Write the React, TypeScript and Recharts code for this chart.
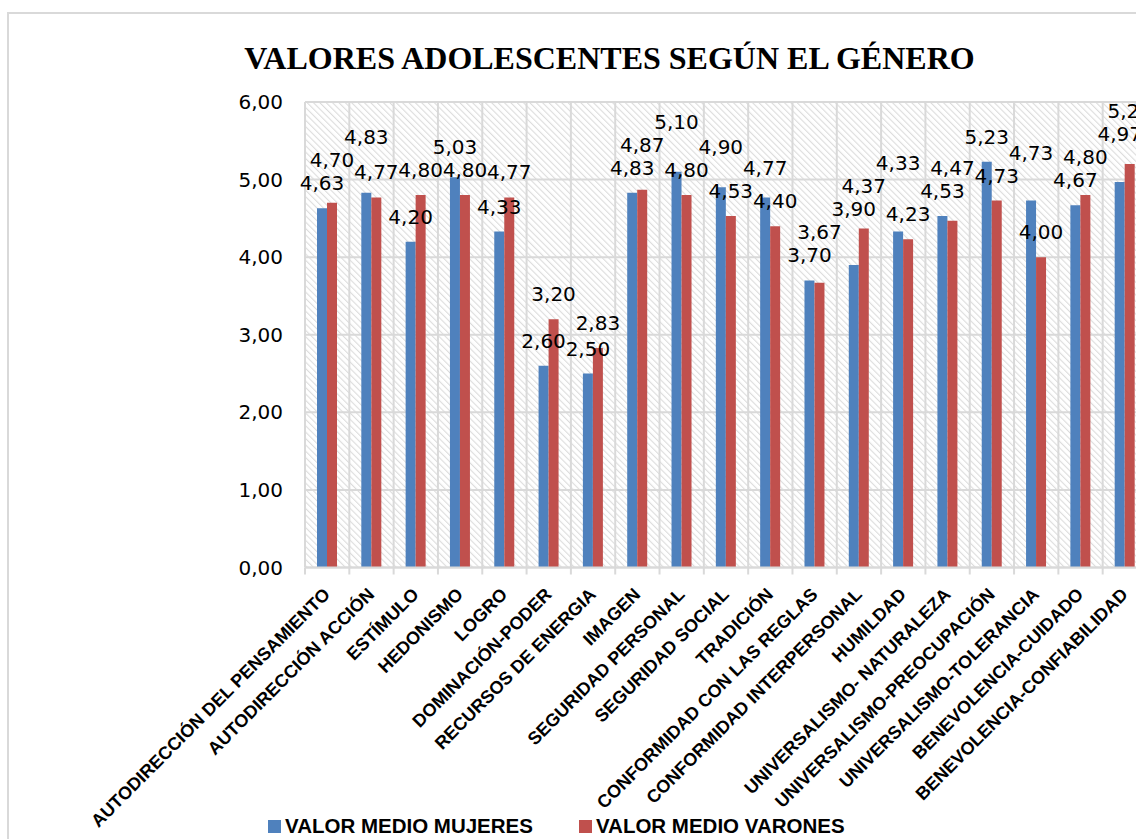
import React from "react";
import { BarChart, Bar, XAxis, YAxis, CartesianGrid, LabelList } from "recharts";

const title = "VALORES ADOLESCENTES SEGÚN EL GÉNERO";

const categories = [
  "AUTODIRECCIÓN DEL PENSAMIENTO",
  "AUTODIRECCIÓN ACCIÓN",
  "ESTÍMULO",
  "HEDONISMO",
  "LOGRO",
  "DOMINACIÓN-PODER",
  "RECURSOS DE ENERGIA",
  "IMAGEN",
  "SEGURIDAD PERSONAL",
  "SEGURIDAD SOCIAL",
  "TRADICIÓN",
  "CONFORMIDAD CON LAS REGLAS",
  "CONFORMIDAD INTERPERSONAL",
  "HUMILDAD",
  "UNIVERSALISMO- NATURALEZA",
  "UNIVERSALISMO-PREOCUPACIÓN",
  "UNIVERSALISMO-TOLERANCIA",
  "BENEVOLENCIA-CUIDADO",
  "BENEVOLENCIA-CONFIABILIDAD",
];

const mujeres = [4.63, 4.83, 4.2, 5.03, 4.33, 2.6, 2.5, 4.83, 5.1, 4.9, 4.77, 3.7, 3.9, 4.33, 4.53, 5.23, 4.73, 4.67, 4.97];
const varones = [4.7, 4.77, 4.8, 4.8, 4.77, 3.2, 2.83, 4.87, 4.8, 4.53, 4.4, 3.67, 4.37, 4.23, 4.47, 4.73, 4.0, 4.8, 5.2];

const seriesNames = ["VALOR MEDIO MUJERES", "VALOR MEDIO VARONES"];
const yTicks = [0, 1, 2, 3, 4, 5, 6];

const BLUE = "#4F81BD";
const RED = "#C0504D";
const GRID = "#D9D9D9";

// chart geometry
const W = 1180;
const H = 860;
const margin = { top: 102, right: 33, bottom: 40, left: 0 };
const Y_W = 305;
const X_H = H - margin.bottom - 567.5;
const plotW = W - margin.left - margin.right - Y_W;
const plotH = H - margin.top - margin.bottom - X_H;
const band = plotW / categories.length;

const fmt = (v: number) => v.toFixed(2).replace(".", ",");

const data = categories.map((c, i) => ({ name: c, mujeres: mujeres[i], varones: varones[i] }));

// simple overlap avoidance for the data labels: push a label up until it clears the others
const LABEL_GAP = 25;
const LW = 42;
const LH = 23;
function computeLifts() {
  const pxPerUnit = plotH / 6;
  const placed: { x: number; y: number }[] = [];
  const lifts: number[][] = [[], []];
  categories.forEach((_, i) => {
    [mujeres, varones].forEach((arr, s) => {
      const cx = i * band + (s === 0 ? -5 : 5);
      const base = arr[i] * pxPerUnit + LABEL_GAP;
      let cy = base;
      let moved = true;
      while (moved) {
        moved = false;
        for (const p of placed) {
          if (Math.abs(p.x - cx) < LW && Math.abs(p.y - cy) < LH) {
            cy = p.y + LH;
            moved = true;
          }
        }
      }
      placed.push({ x: cx, y: cy });
      lifts[s][i] = cy - base;
    });
  });
  return lifts;
}
const lifts = computeLifts();

const makeLabel = (s: number) => (props: any) => {
  const vb = props.viewBox && props.viewBox.width !== undefined ? props.viewBox : props;
  const x = Number(vb.x) + Number(vb.width) / 2;
  const y = Number(vb.y) - LABEL_GAP - (lifts[s][props.index] || 0) + 7;
  return (
    <text x={x} y={y} textAnchor="middle" fontFamily="DejaVu Sans" fontSize={20} fill="#000">
      {fmt(Number(props.value))}
    </text>
  );
};

const CatTick = (props: any) => {
  const { x, y, payload } = props;
  const tx = x + 4;
  const ty = y + 28;
  return (
    <g>
      <line x1={x - band / 2} x2={x - band / 2} y1={y} y2={y + 7} stroke={GRID} strokeWidth={2} />
      <text
        x={tx}
        y={ty}
        transform={`rotate(-45 ${tx} ${ty})`}
        textAnchor="end"
        fontFamily="Liberation Sans"
        fontWeight="bold"
        fontSize={18}
        fill="#000"
      >
        {payload.value}
      </text>
    </g>
  );
};

export default function App() {
  return (
    <div style={{ position: "absolute", left: 0, top: 0, width: 1136, height: 839, overflow: "hidden", background: "#fff" }}>
      <div
        style={{
          position: "absolute",
          left: 7,
          top: 12,
          width: 1200,
          height: 900,
          border: `2px solid ${GRID}`,
          boxSizing: "border-box",
        }}
      />
      <div
        style={{
          position: "absolute",
          left: 109.5,
          top: 42,
          width: 1000,
          textAlign: "center",
          fontFamily: "Liberation Serif",
          fontWeight: "bold",
          fontSize: 32,
          lineHeight: "32px",
          color: "#000",
          whiteSpace: "nowrap",
        }}
      >
        {title}
      </div>
      <div style={{ position: "absolute", left: 0, top: 0 }}>
        <BarChart width={W} height={H} data={data} margin={margin} barGap={0} barSize={10}>
          <defs>
            <pattern id="hatch" patternUnits="userSpaceOnUse" width={4.5} height={4.5} patternTransform="rotate(-45)">
              <rect width={4.5} height={4.5} fill="#fff" />
              <line x1={0} y1={0} x2={0} y2={4.5} stroke="#DCDCDC" strokeWidth={2.2} />
            </pattern>
          </defs>
          <CartesianGrid
            fill="url(#hatch)"
            fillOpacity={1}
            stroke={GRID}
            strokeWidth={2}
            verticalCoordinatesGenerator={({ offset }: any) =>
              categories.map((_, i) => offset.left + i * (offset.width / categories.length))
            }
          />
          <XAxis
            dataKey="name"
            interval={0}
            height={X_H}
            tickSize={0}
            tickMargin={0}
            tickLine={false}
            axisLine={{ stroke: GRID, strokeWidth: 2 }}
            tick={<CatTick />}
          />
          <YAxis
            width={Y_W}
            domain={[0, 6]}
            ticks={yTicks}
            tickFormatter={fmt}
            axisLine={false}
            tickLine={false}
            tickSize={0}
            tickMargin={22}
            tick={{ fontFamily: "DejaVu Sans", fontSize: 20, fill: "#000" }}
          />
          <Bar dataKey="mujeres" name={seriesNames[0]} fill={BLUE} isAnimationActive={false}>
            <LabelList dataKey="mujeres" content={makeLabel(0)} />
          </Bar>
          <Bar dataKey="varones" name={seriesNames[1]} fill={RED} isAnimationActive={false}>
            <LabelList dataKey="varones" content={makeLabel(1)} />
          </Bar>
        </BarChart>
      </div>
      <div
        style={{
          position: "absolute",
          left: 268,
          top: 816,
          display: "flex",
          alignItems: "center",
          fontFamily: "Liberation Sans",
          fontWeight: "bold",
          fontSize: 20.5,
          lineHeight: "20px",
          color: "#000",
          whiteSpace: "nowrap",
        }}
      >
        {seriesNames.map((n, i) => (
          <div key={n} style={{ display: "flex", alignItems: "center", marginRight: i === 0 ? 46 : 0 }}>
            <span style={{ width: 13, height: 13, background: i === 0 ? BLUE : RED, marginRight: 4 }} />
            <span>{n}</span>
          </div>
        ))}
      </div>
    </div>
  );
}
